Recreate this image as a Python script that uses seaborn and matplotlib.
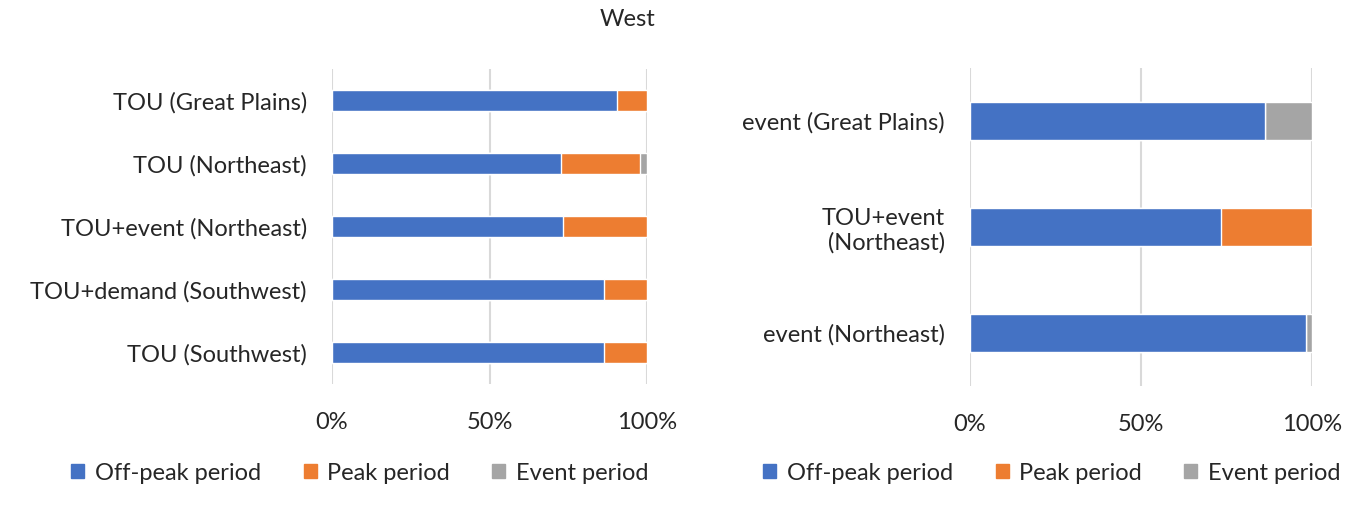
import numpy as np
import pandas as pd
import matplotlib.pyplot as plt
import seaborn as sns
from matplotlib.patches import Patch
from matplotlib.ticker import FuncFormatter

sns.set_style('white')
plt.rcParams['font.family'] = ['Lato', 'DejaVu Sans']

# data (shares of load, %)
LEFT_CATS = ['TOU (Great Plains)', 'TOU (Northeast)', 'TOU+event (Northeast)',
             'TOU+demand (Southwest)', 'TOU (Southwest)']
LEFT_OFFPEAK = [90.5, 72.6, 73.3, 86.5, 86.5]
LEFT_PEAK = [9.5, 25.2, 26.7, 13.5, 13.5]
LEFT_EVENT = [0.0, 2.2, 0.0, 0.0, 0.0]

RIGHT_CATS = ['event (Great Plains)', 'TOU+event\n(Northeast)', 'event (Northeast)']
RIGHT_OFFPEAK = [86.3, 73.5, 98.3]
RIGHT_PEAK = [0.0, 26.5, 0.0]
RIGHT_EVENT = [13.7, 0.0, 1.7]

SERIES = ['Off-peak period', 'Peak period', 'Event period']
COLORS = ['#4472C4', '#ED7D31', '#A5A5A5']
FS = 17
W, H = 1360, 505


def stacked_bars(ax, cats, offpeak, peak, event, width, legend_x):
    df = pd.DataFrame({'cat': cats, 'off': offpeak, 'peak': peak, 'event': event})
    df['c1'] = df['off']
    df['c2'] = df['off'] + df['peak']
    df['c3'] = df['c2'] + df['event']
    # draw cumulative totals back to front so they look stacked
    for col, color in zip(['c3', 'c2', 'c1'], COLORS[::-1]):
        sns.barplot(data=df, x=col, y='cat', orient='h', color=color,
                    width=width, saturation=1, ax=ax)
    ax.set(xlim=(0, 100), xlabel='', ylabel='')
    ax.set_xticks([0, 50, 100])
    ax.xaxis.set_major_formatter(FuncFormatter(lambda v, p: f"{v:.0f}%"))
    ax.grid(axis='x', color='#D9D9D9', lw=1.5)
    ax.set_axisbelow(True)
    sns.despine(ax=ax, left=True, bottom=True, top=True, right=True)
    ax.tick_params(axis='x', length=0, pad=20, labelsize=FS)
    ax.tick_params(axis='y', length=0, pad=18, labelsize=FS)
    handles = [Patch(color=c, label=s) for c, s in zip(COLORS, SERIES)]
    ax.legend(handles=handles, loc='center', bbox_to_anchor=(legend_x / W, 1 - 473 / H),
              bbox_transform=ax.figure.transFigure,
              ncol=3, frameon=False, fontsize=FS, handlelength=0.55,
              handleheight=0.55, handletextpad=0.45, columnspacing=1.8)


fig = plt.figure(figsize=(13.6, 5.05), dpi=100)
ax1 = fig.add_axes([332 / W, 1 - 384 / H, 315 / W, 315 / H])
ax2 = fig.add_axes([970 / W, 1 - 386 / H, 342 / W, 318 / H])

stacked_bars(ax1, LEFT_CATS, LEFT_OFFPEAK, LEFT_PEAK, LEFT_EVENT, 0.33, 360)
stacked_bars(ax2, RIGHT_CATS, RIGHT_OFFPEAK, RIGHT_PEAK, RIGHT_EVENT, 0.35, 1052)

fig.text(628 / W, 1 - 20 / H, 'West', ha='center', va='center', fontsize=FS)

fig.savefig('out.png', dpi=100)
